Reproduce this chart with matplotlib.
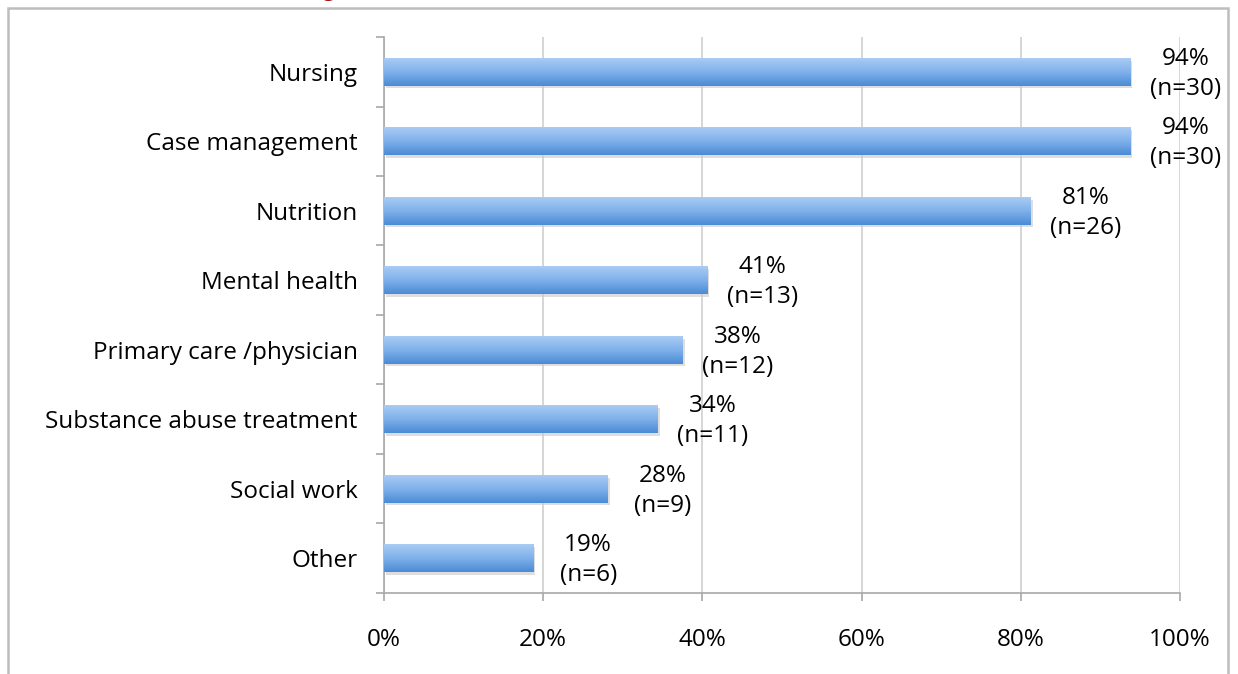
from matplotlib import pyplot as plt
from matplotlib import colors
from matplotlib.patches import Rectangle
import numpy as np

categories = ["Nursing", "Case management", "Nutrition", "Mental health",
              "Primary care /physician", "Substance abuse treatment",
              "Social work", "Other"]
percent = [93.75, 93.75, 81.25, 40.6, 37.5, 34.4, 28.1, 18.75]
counts = [30, 30, 26, 13, 12, 11, 9, 6]
pct_labels = ["94%", "94%", "81%", "41%", "38%", "34%", "28%", "19%"]
xticks = [0, 20, 40, 60, 80, 100]
xtick_labels = ["0%", "20%", "40%", "60%", "80%", "100%"]

plt.rcParams['font.family'] = ['Open Sans', 'DejaVu Sans']
FS = 17.5

fig = plt.figure(figsize=(12.38, 6.74), dpi=100)
ax = fig.add_axes([0.3102, 0.1202, 0.6430, 0.8249])

n = len(categories)
ypos = np.arange(n)
bar_h = 0.40

# light-to-dark blue gradient used for every bar
grad_cmap = colors.LinearSegmentedColormap.from_list(
    "bar", ["#aacbf4", "#7fb1ea", "#4b8bd6"])
grad = np.linspace(0, 1, 64).reshape(-1, 1)

bars = ax.barh(ypos, percent, height=bar_h, color="none", zorder=3)
for b in bars:
    x0, y0 = b.get_x(), b.get_y()
    w, h = b.get_width(), b.get_height()
    # soft shadow under the bar
    ax.add_patch(Rectangle((x0 + 0.25, y0 + 0.04), w, h, color="#c8c8c8",
                           alpha=0.6, zorder=2, linewidth=0))
    ax.imshow(grad, cmap=grad_cmap, aspect="auto", zorder=3,
              extent=(x0, x0 + w, y0 + h, y0), interpolation="bilinear")

for i, (v, p, c) in enumerate(zip(percent, pct_labels, counts)):
    xc = v + 6.9
    ax.text(xc, i - 0.19, p, ha="center", va="center", fontsize=FS, color="#000000")
    ax.text(xc, i + 0.245, "(n=%d)" % c, ha="center", va="center", fontsize=FS, color="#000000")

ax.set_xlim(0, 100)
ax.set_ylim(n - 0.5, -0.5)
ax.set_xticks(xticks)
ax.set_xticklabels(xtick_labels, fontsize=FS)
ax.set_yticks(ypos)
ax.set_yticklabels(categories, fontsize=FS)
ax.set_yticks(np.arange(-0.5, n, 1), minor=True)

ax.grid(axis="x", color="#cfcfcf", linewidth=1.2, zorder=0)
ax.set_axisbelow(True)

for s in ["top", "right"]:
    ax.spines[s].set_visible(False)
for s in ["left", "bottom"]:
    ax.spines[s].set_color("#a8a8a8")
    ax.spines[s].set_linewidth(1.2)

ax.tick_params(axis="y", which="major", length=0, pad=19)
ax.tick_params(axis="y", which="minor", length=6, color="#a8a8a8", width=1.2)
ax.tick_params(axis="x", which="major", length=6, color="#a8a8a8", width=1.2, pad=19)

# outer frame of the chart area (bottom edge runs off the image)
fig.patches.append(Rectangle((8 / 1238, -0.05), 1220 / 1238, 1 - 8 / 674 + 0.05,
                             transform=fig.transFigure, fill=False,
                             edgecolor="#bdbdbd", linewidth=1.8))
# bottom of a clipped title above the chart
fig.text(328 / 1238, 1 + 4 / 674, "g", color="#a01010", fontsize=16,
         fontweight="bold", family="Liberation Serif", ha="center", va="baseline")

fig.savefig("out.png", dpi=100)
